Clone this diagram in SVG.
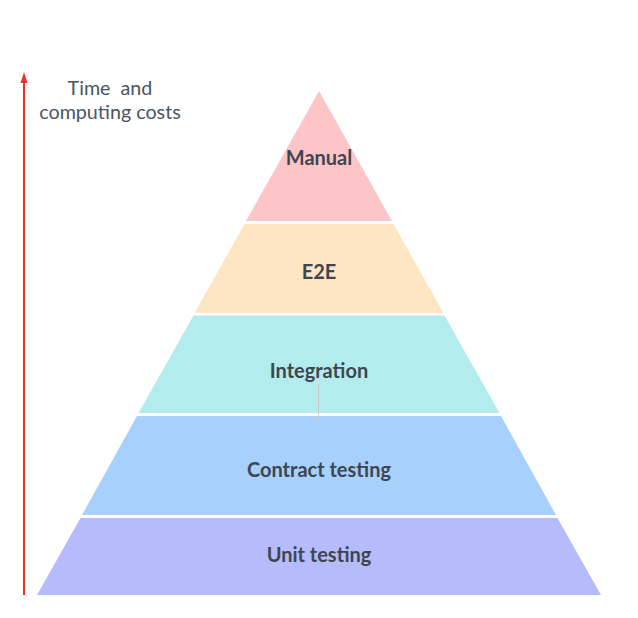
<svg xmlns="http://www.w3.org/2000/svg" width="638" height="618" viewBox="0 0 638 618">
<style>
.lbl{font-family:Lato,"Open Sans",sans-serif;font-weight:bold;font-size:20px;fill:#3d4651;text-anchor:middle}
.axis{font-family:Lato,"Open Sans",sans-serif;font-size:19.7px;fill:#4a5563;text-anchor:middle;white-space:pre}
</style>
<rect width="638" height="618" fill="#ffffff"/>
<g id="manual">
<polygon points="319,91 392,221 246,221" fill="#fdc5c7"/>
<text class="lbl" x="319" y="165">Manual</text>
</g>
<g id="e2e">
<polygon points="244.5,224 393.5,224 443.5,313 194.5,313" fill="#fee6c5"/>
<text class="lbl" x="319" y="279">E2E</text>
</g>
<g id="integration">
<polygon points="193.5,315.5 444.5,315.5 499.5,413 138.5,413" fill="#b3eced"/>
<text class="lbl" x="319" y="378">Integration</text>
</g>
<g id="contract">
<polygon points="137,416 501,416 556,515 82,515" fill="#a7d0fc"/>
<text class="lbl" x="319" y="477">Contract testing</text>
</g>
<g id="unit">
<polygon points="80.5,518 557.5,518 601,595 37,595" fill="#b6bbfc"/>
<text class="lbl" x="319" y="562">Unit testing</text>
</g>
<g id="connectors">
<line x1="318.5" y1="384" x2="318.5" y2="418" stroke="#c8c8c8" stroke-width="1"/>
<line x1="24" y1="595" x2="24" y2="80" stroke="#f0302a" stroke-width="2"/>
<polygon points="24,72 27.5,83 20.5,83" fill="#f0302a"/>
</g>
<g id="axis-label">
<text class="axis" x="110" y="95" xml:space="preserve">Time  and</text>
<text class="axis" x="110" y="119">computing costs</text>
</g>
</svg>
